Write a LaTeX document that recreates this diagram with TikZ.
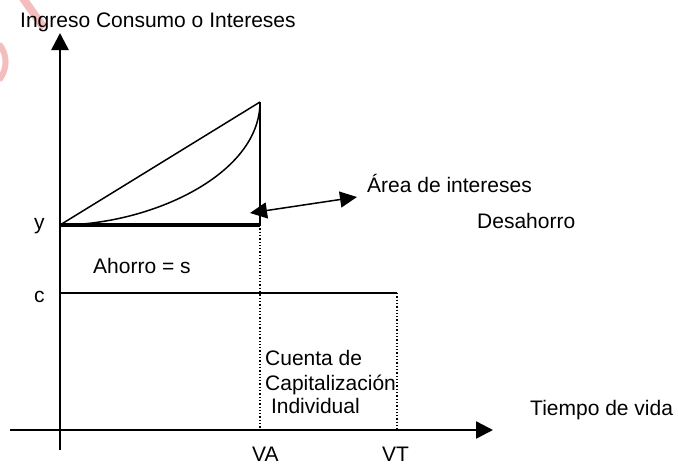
\documentclass[tikz,border=0pt]{standalone}
\usepackage{fontspec}
\setmainfont{Liberation Sans}
\usetikzlibrary{arrows.meta}
\definecolor{marca}{RGB}{244,190,190}
\tikzset{
  eje/.style={line width=2.5pt,-{Triangle[length=17pt,width=17pt]}},
  linea/.style={line width=1.5pt},
  guia/.style={line width=1.3pt,dotted},
  rotulo/.style={inner sep=0pt,anchor=base west}
}
\begin{document}
\begin{tikzpicture}[x=1pt,y=-1pt,font=\fontsize{21}{24}\selectfont]
      \useasboundingbox (0,0) rectangle (678,466);
      \draw[marca,line width=8pt] (20,-6) -- (44,28);
      \draw[marca,line width=6pt] (-1,44) arc[start angle=40,end angle=-40,radius=28pt];
      \draw
        (60,450) coordinate (ybot)
        (60,33) coordinate (ytop)
        (10,430) coordinate (xizq)
        (493,430) coordinate (xder)
        (60,225) coordinate (y0)
        (260,225) coordinate (y1)
        (260,102) coordinate (cima)
        (260,430) coordinate (va)
        (60,293) coordinate (c0)
        (397,293) coordinate (c1)
        (397,430) coordinate (vt)
        (250,213) coordinate (p)
        (357,197) coordinate (q);
      \node[rotulo] (ing) at (20,27) {Ingreso Consumo o Intereses};
      \node[rotulo] (y) at (34,229) {y};
      \node[rotulo] (c) at (34,302) {c};
      \node[rotulo] (ah) at (93,273) {Ahorro = s};
      \node[rotulo] (area) at (367,192) {Área de intereses};
      \node[rotulo] (des) at (477,228) {Desahorro};
      \node[rotulo] (cu1) at (265,365) {Cuenta de};
      \node[rotulo] (cu2) at (265,390) {Capitalización};
      \node[rotulo] (cu3) at (265,413) {\ Individual};
      \node[rotulo] (tv) at (530,415) {Tiempo de vida};
      \node[rotulo] (VA) at (252,461) {VA};
      \node[rotulo] (VT) at (382,461) {VT};
      \begin{scope}[linea]
        \draw[eje] (ybot) to (ytop);
        \draw[eje] (xizq) to (xder);
        \draw (y0) to (cima);
        \draw (cima) to (y1);
        \draw (y0) .. controls (150,225) and (260,175) .. (cima);
        \draw[line width=3.8pt] (y0) to (y1);
        \draw (c0) to (c1);
        \draw[guia] (y1) to (va);
        \draw[guia] (c1) to (vt);
        \draw[{Triangle[length=17pt,width=16pt]}-{Triangle[length=17pt,width=16pt]}] (p) to (q);
      \end{scope}
    \end{tikzpicture}
\end{document}
